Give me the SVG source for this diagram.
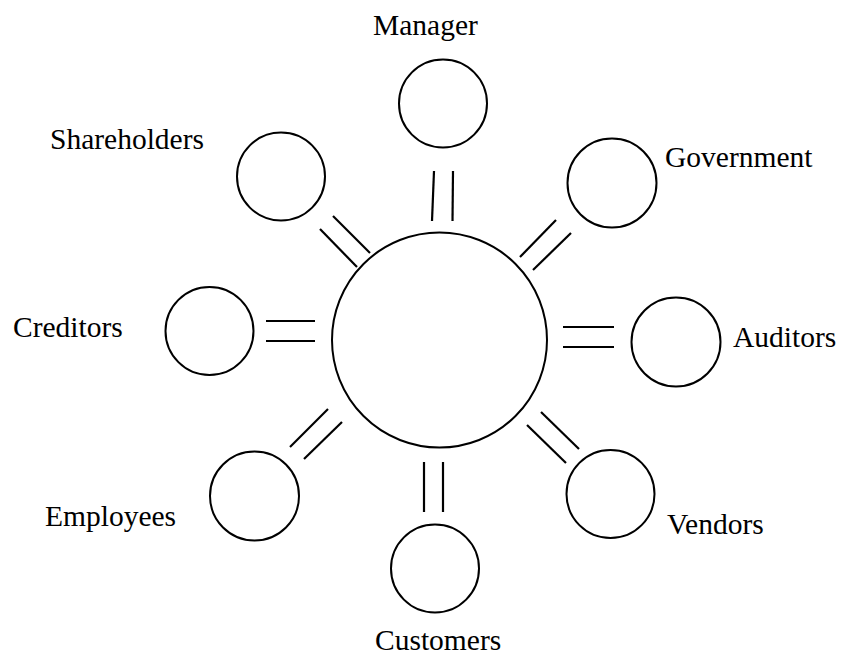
<svg xmlns="http://www.w3.org/2000/svg" width="842" height="658" viewBox="0 0 842 658">
  <style>
    .node { fill: none; stroke: #000; stroke-width: 2; }
    .link { stroke: #000; stroke-width: 2.2; stroke-linecap: butt; }
    .label { font-family: "Liberation Serif", "Times New Roman", serif; font-size: 29.5px; fill: #000; }
  </style>
  <rect width="842" height="658" fill="#fff"/>

  <!-- central entity -->
  <g id="center">
    <circle class="node" cx="439.5" cy="340" r="107.5"/>
  </g>

  <!-- stakeholders -->
  <g id="manager">
    <circle class="node" cx="443" cy="103.5" r="44"/>
    <text class="label" x="373" y="35">Manager</text>
  </g>
  <g id="government">
    <circle class="node" cx="612" cy="183" r="44.5"/>
    <text class="label" x="665" y="167">Government</text>
  </g>
  <g id="auditors">
    <circle class="node" cx="676" cy="342" r="44.5"/>
    <text class="label" x="733" y="347">Auditors</text>
  </g>
  <g id="vendors">
    <circle class="node" cx="610.5" cy="494" r="44"/>
    <text class="label" x="667" y="534">Vendors</text>
  </g>
  <g id="customers">
    <circle class="node" cx="435" cy="568.5" r="44"/>
    <text class="label" x="375" y="650">Customers</text>
  </g>
  <g id="employees">
    <circle class="node" cx="254.5" cy="496" r="44.5"/>
    <text class="label" x="45" y="526">Employees</text>
  </g>
  <g id="creditors">
    <circle class="node" cx="209.5" cy="331" r="44"/>
    <text class="label" x="13" y="337">Creditors</text>
  </g>
  <g id="shareholders">
    <circle class="node" cx="281" cy="176.5" r="44"/>
    <text class="label" x="50" y="149">Shareholders</text>
  </g>

  <!-- double-line links -->
  <g id="links">
    <line class="link" x1="434" y1="171" x2="432" y2="221"/>
    <line class="link" x1="453" y1="171" x2="452.5" y2="221"/>

    <line class="link" x1="520" y1="257" x2="556" y2="220"/>
    <line class="link" x1="533" y1="270" x2="571" y2="233"/>

    <line class="link" x1="563" y1="327" x2="614" y2="327"/>
    <line class="link" x1="563" y1="347" x2="614" y2="347"/>

    <line class="link" x1="541" y1="412" x2="579" y2="449"/>
    <line class="link" x1="527" y1="425" x2="566" y2="463"/>

    <line class="link" x1="424" y1="462" x2="424" y2="512"/>
    <line class="link" x1="443" y1="462" x2="443" y2="512"/>

    <line class="link" x1="290" y1="447" x2="328" y2="409"/>
    <line class="link" x1="304" y1="459" x2="342" y2="422"/>

    <line class="link" x1="266" y1="321" x2="315" y2="321"/>
    <line class="link" x1="266" y1="341" x2="315" y2="341"/>

    <line class="link" x1="333" y1="216" x2="370" y2="253"/>
    <line class="link" x1="320" y1="229" x2="357" y2="267"/>
  </g>
</svg>
